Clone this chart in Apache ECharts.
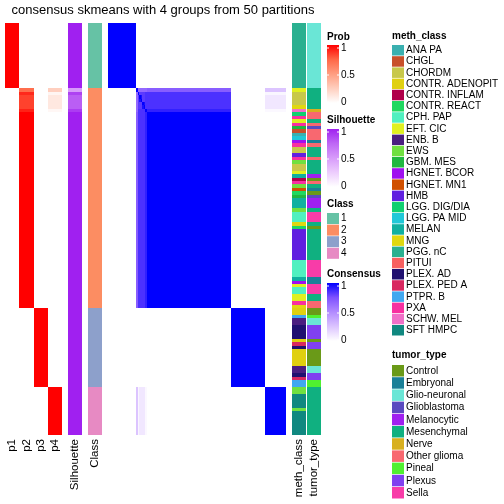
<!DOCTYPE html>
<html><head><meta charset="utf-8">
<script src="https://cdn.jsdelivr.net/npm/echarts@6/dist/echarts.min.js"></script>
<style>html,body{margin:0;padding:0;background:#fff}#c{width:504px;height:504px}</style>
</head><body><div id="c"></div><script>
(function(){
const FONT = '"Liberation Sans", Arial, sans-serif';
const titleText = 'consensus skmeans with 4 groups from 50 partitions';
const probNames = ['p1','p2','p3','p4'];
const classNames = ['1','2','3','4'];
const classColors = ['#66C2A5','#FC8D62','#8DA0CB','#E78AC3'];
const methClasses = ['ANA PA','CHGL','CHORDM','CONTR. ADENOPIT','CONTR. INFLAM','CONTR. REACT','CPH. PAP','EFT. CIC','ENB. B','EWS','GBM. MES','HGNET. BCOR','HGNET. MN1','HMB','LGG. DIG/DIA','LGG. PA MID','MELAN','MNG','PGG. nC','PITUI','PLEX. AD','PLEX. PED A','PTPR. B','PXA','SCHW. MEL','SFT HMPC'];
const methColors = ['#3AB0B0','#C8502A','#C8C84A','#E0D010','#B0004A','#20D860','#50F0C0','#E0F020','#4A1E80','#70E040','#20B840','#A010F0','#D05000','#6020E0','#10D070','#20C8D8','#10B0A0','#E0D810','#2AB090','#F86060','#201070','#D82860','#40A8F0','#F830A0','#F070C8','#108880'];
const tumorTypes = ['Control','Embryonal','Glio-neuronal','Glioblastoma','Melanocytic','Mesenchymal','Nerve','Other glioma','Pineal','Plexus','Sella'];
const tumorColors = ['#6A9A18','#1A8098','#6AE6D6','#5A4AC0','#A020F0','#10B080','#D8B020','#F86870','#50F030','#8040F0','#F83CA8'];

const sampleClass = [
1,1,1,1,1,1,1,1,1,1,
1,1,1,1,1,1,1,1,1,2,
2,2,2,2,2,2,2,2,2,2,
2,2,2,2,2,2,2,2,2,2,
2,2,2,2,2,2,2,2,2,2,
2,2,2,2,2,2,2,2,2,2,
2,2,2,2,2,2,2,2,2,2,
2,2,2,2,2,2,2,2,2,2,
2,2,2,3,3,3,3,3,3,3,
3,3,3,3,3,3,3,3,3,3,
3,3,3,3,3,3,4,4,4,4,
4,4,4,4,4,4,4,4,4,4];
const p1 = [
1,1,1,1,1,1,1,1,1,1, 1,1,1,1,1,1,1,1,1,0,
0,0,0,0,0,0,0,0,0,0, 0,0,0,0,0,0,0,0,0,0,
0,0,0,0,0,0,0,0,0,0, 0,0,0,0,0,0,0,0,0,0,
0,0,0,0,0,0,0,0,0,0, 0,0,0,0,0,0,0,0,0,0,
0,0,0,0,0,0,0,0,0,0, 0,0,0,0,0,0,0,0,0,0,
0,0,0,0,0,0,0,0,0,0, 0,0,0,0,0,0,0,0,0,0];
const p2 = [
0,0,0,0,0,0,0,0,0,0, 0,0,0,0,0,0,0,0,0,0.72,
0.9,0.84,0.84,0.84,0.84,0.92,1,1,1,1, 1,1,1,1,1,1,1,1,1,1,
1,1,1,1,1,1,1,1,1,1, 1,1,1,1,1,1,1,1,1,1,
1,1,1,1,1,1,1,1,1,1, 1,1,1,1,1,1,1,1,1,1,
1,1,1,0,0,0,0,0,0,0, 0,0,0,0,0,0,0,0,0,0,
0,0,0,0,0,0,0,0,0,0, 0,0,0,0,0,0,0,0,0,0];
const p3 = [
0,0,0,0,0,0,0,0,0,0, 0,0,0,0,0,0,0,0,0,0,
0,0,0,0,0,0,0,0,0,0, 0,0,0,0,0,0,0,0,0,0,
0,0,0,0,0,0,0,0,0,0, 0,0,0,0,0,0,0,0,0,0,
0,0,0,0,0,0,0,0,0,0, 0,0,0,0,0,0,0,0,0,0,
0,0,0,1,1,1,1,1,1,1, 1,1,1,1,1,1,1,1,1,1,
1,1,1,1,1,1,0,0,0,0, 0,0,0,0,0,0,0,0,0,0];
const p4 = [
0,0,0,0,0,0,0,0,0,0, 0,0,0,0,0,0,0,0,0,0.25,
0.05,0.12,0.12,0.12,0.12,0.04,0,0,0,0, 0,0,0,0,0,0,0,0,0,0,
0,0,0,0,0,0,0,0,0,0, 0,0,0,0,0,0,0,0,0,0,
0,0,0,0,0,0,0,0,0,0, 0,0,0,0,0,0,0,0,0,0,
0,0,0,0,0,0,0,0,0,0, 0,0,0,0,0,0,0,0,0,0,
0,0,0,0,0,0,1,1,1,1, 1,1,1,1,1,1,1,1,1,1];
const silhouette = [
1,1,1,1,1,1,1,1,1,1, 1,1,1,1,1,1,1,1,1,0.5,
0.88,0.78,0.78,0.78,0.78,0.9,1,1,1,1, 1,1,1,1,1,1,1,1,1,1,
1,1,1,1,1,1,1,1,1,1, 1,1,1,1,1,1,1,1,1,1,
1,1,1,1,1,1,1,1,1,1, 1,1,1,1,1,1,1,1,1,1,
1,1,1,1,1,1,1,1,1,1, 1,1,1,1,1,1,1,1,1,1,
1,1,1,1,1,1,1,1,1,1, 1,1,1,1,1,1,1,1,1,1];
const methIdx = [
18,18,18,18,18,18,18,18,18,18, 18,18,18,18,18,18,18,18,18,7,
2,2,2,2,17,24,14,23,7,23, 10,1,0,15,11,23,2,2,13,23,
9,2,2,7,16,4,23,9,12,5, 10,16,16,16,9,6,6,6,17,5,
13,13,13,13,13,13,13,13,13,6, 6,6,6,6,16,11,7,6,6,7,
7,23,17,3,3,22,8,8,20,20, 20,20,3,21,20,3,3,3,3,3,
8,8,20,21,22,22,9,9,25,25, 25,25,9,25,25,25,25,25,25,25];
const tumorIdx = [
2,2,2,2,2,2,2,2,2,2, 2,2,2,2,2,2,2,2,2,5,
5,5,5,5,5,6,7,7,5,7, 3,7,7,7,1,7,5,5,5,7,
5,5,5,5,4,0,7,5,1,0, 3,4,4,4,5,10,10,10,5,0,
5,5,5,5,5,5,5,5,5,10, 10,10,10,10,1,1,10,10,10,5,
5,7,7,0,0,8,2,2,9,9, 9,9,0,9,9,0,0,0,0,0,
2,2,9,9,8,8,5,5,5,5, 5,5,5,5,5,5,5,5,5,5];
const uncertain = [19,20,21,22,23,24,25];
const uncWithClass2 = [0.7,0.85,0.85,0.85,0.85,0.85,0.9];
const uncWithClass4 = [0.25,0.04,0.1,0.1,0.1,0.1,0.03];
const uncBlock = [
[1,0.65,0.65,0.65,0.65,0.65,0.65],
[0.65,1,0.82,0.82,0.82,0.82,0.85],
[0.65,0.82,1,0.95,0.82,0.82,0.85],
[0.65,0.82,0.95,1,0.82,0.82,0.85],
[0.65,0.82,0.82,0.82,1,0.95,0.85],
[0.65,0.82,0.82,0.82,0.95,1,0.85],
[0.65,0.85,0.85,0.85,0.85,0.85,1]];

const N = sampleClass.length;
const ids = sampleClass.map((_, i) => 's' + i);
function consWith(u, j) {
  if (sampleClass[j] === 2) return uncWithClass2[u];
  if (sampleClass[j] === 4) return uncWithClass4[u];
  return 0;
}
function cons(i, j) {
  if (i === j) return 1;
  const ui = uncertain.indexOf(i), uj = uncertain.indexOf(j);
  if (ui >= 0 && uj >= 0) return uncBlock[ui][uj];
  if (ui >= 0) return consWith(ui, j);
  if (uj >= 0) return consWith(uj, i);
  return sampleClass[i] === sampleClass[j] ? 1 : 0;
}

const redRamp = ['#FFFFFF','#FFCFBF','#FF9E81','#FF6746','#FF0000'];
const purpleRamp = ['#FFFFFF','#EDCDFD','#D79BFA','#BE67F5','#A020F0'];
const blueRamp = ['#FFFFFF','#DCC4FF','#B28BFF','#7E51FF','#0000FF'];

const probData = [];
[p1, p2, p3, p4].forEach((arr, c) => arr.forEach((v, r) => probData.push([c, r, v])));
const silData = silhouette.map((v, r) => [0, r, v]);
const classData = sampleClass.map((v, r) => [0, r, v - 1]);
const consData = [];
for (let i = 0; i < N; i++) for (let j = 0; j < N; j++) consData.push([j, i, cons(i, j)]);
const methData = methIdx.map((v, r) => [0, r, v]);
const tumorData = tumorIdx.map((v, r) => [0, r, v]);

const gTop = 23, gHeight = 412;
const gridsDef = [
  {left: 5, width: 57, cats: probNames, label: true},
  {left: 68, width: 14, cats: ['Silhouette'], label: true},
  {left: 88, width: 14, cats: ['Class'], label: true},
  {left: 108, width: 178, cats: ids, label: false},
  {left: 292, width: 14, cats: ['meth_class'], label: true},
  {left: 307, width: 14, cats: ['tumor_type'], label: true}
];
const grid = gridsDef.map(g => ({left: g.left, top: gTop, width: g.width, height: gHeight}));
const xAxis = gridsDef.map((g, k) => ({
  type: 'category', gridIndex: k, data: g.cats, position: 'bottom',
  axisLine: {show: false}, axisTick: {show: false}, splitLine: {show: false},
  axisLabel: {show: g.label, rotate: 90, margin: 4, fontSize: 11.5, color: '#000', fontFamily: FONT, interval: 0}
}));
const yAxis = gridsDef.map((g, k) => ({type: 'category', gridIndex: k, data: ids, inverse: true, show: false}));

const snap = v => Math.floor(v + 0.5 + 1e-4);
function cellRenderer(palette) {
  return function (params, api) {
    const p = api.coord([api.value(0), api.value(1)]);
    const s = api.size([1, 1]);
    const x0 = snap(p[0] - s[0] / 2), x1 = snap(p[0] + s[0] / 2);
    const y0 = snap(p[1] - s[1] / 2), y1 = snap(p[1] + s[1] / 2);
    const fill = palette ? palette[api.value(2)] : api.visual('color');
    return {type: 'rect', shape: {x: x0, y: y0, width: x1 - x0 + 0.5, height: y1 - y0 + 0.5}, style: {fill: fill, stroke: null}};
  };
}
const cell = (k, data, palette) => ({type: 'custom', xAxisIndex: k, yAxisIndex: k, data: data,
  renderItem: cellRenderer(palette), encode: {x: 0, y: 1}, progressive: 0, animation: false, silent: true,
  clip: true});
const series = [cell(0, probData), cell(1, silData), cell(2, classData, classColors), cell(3, consData),
  cell(4, methData, methColors), cell(5, tumorData, tumorColors)];

const G = [];
const tfont = (size, bold) => (bold ? 'bold ' : 'normal ') + size + 'px ' + FONT;
function text(x, y, s, size, bold, align) {
  G.push({type: 'text', silent: true, style: {x: x, y: y, text: s, font: tfont(size, bold), fill: '#000',
    textAlign: align || 'left', textVerticalAlign: 'middle'}});
}
function rect(x, y, w, h, fill) {
  G.push({type: 'rect', silent: true, shape: {x: x, y: y, width: w, height: h}, style: {fill: fill}});
}
function line(x1, y1, x2, y2) {
  G.push({type: 'line', silent: true, shape: {x1: x1, y1: y1, x2: x2, y2: y2}, style: {stroke: '#fff', lineWidth: 1}});
}
text(163, 10, titleText, 13, false, 'center');
function colorBar(title, ty, y0, y1, ramp) {
  text(327, ty, title, 10, true);
  const stops = ramp.map((c, i) => ({offset: 1 - i / (ramp.length - 1), color: c})).reverse();
  rect(327, y0, 12, y1 - y0, {type: 'linear', x: 0, y: 0, x2: 0, y2: 1, colorStops: stops});
  [[1, '1'], [0.5, '0.5'], [0, '0']].forEach(([v, l]) => {
    const yy = y1 - 1 - v * (y1 - y0 - 4);
    line(327, yy, 329, yy); line(337, yy, 339, yy);
    text(341, yy, l, 10, false);
  });
}
colorBar('Prob', 37, 45, 103, redRamp);
colorBar('Silhouette', 120, 129, 187, purpleRamp);
text(327, 204, 'Class', 10, true);
classNames.forEach((n, i) => { rect(327, 213 + i * 11.6, 12, 11, classColors[i]); text(341, 218.5 + i * 11.6, n, 10, false); });
colorBar('Consensus', 274, 283, 341, blueRamp);

text(392, 36, 'meth_class', 10, true);
methClasses.forEach((n, i) => { rect(392, 45 + i * 11.2, 12, 10.5, methColors[i]); text(406, 50.5 + i * 11.2, n, 10, false); });
text(392, 355, 'tumor_type', 10, true);
tumorTypes.forEach((n, i) => { rect(392, 365 + i * 12.2, 12, 11.5, tumorColors[i]); text(406, 371 + i * 12.2, n, 10, false); });

const chart = echarts.init(document.getElementById('c'), null, {renderer: 'canvas'});
chart.setOption({
  animation: false,
  backgroundColor: '#fff',
  grid: grid, xAxis: xAxis, yAxis: yAxis,
  visualMap: [
    {type: 'continuous', show: false, min: 0, max: 1, dimension: 2, seriesIndex: [0], inRange: {color: redRamp}},
    {type: 'continuous', show: false, min: 0, max: 1, dimension: 2, seriesIndex: [1], inRange: {color: purpleRamp}},
    {type: 'continuous', show: false, min: 0, max: 1, dimension: 2, seriesIndex: [3], inRange: {color: blueRamp}}
  ],
  series: series,
  graphic: G
});
})();
</script></body></html>
